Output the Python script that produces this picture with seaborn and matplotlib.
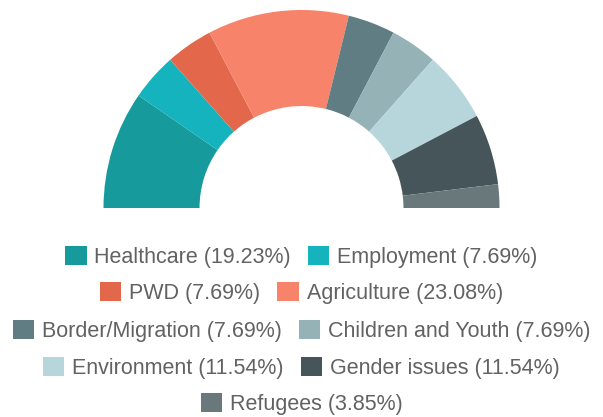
"""Half-donut chart of project categories with a centred legend."""

import matplotlib
matplotlib.use("Agg")
import matplotlib.pyplot as plt
import seaborn as sns

categories = ["Healthcare", "Employment", "PWD", "Agriculture", "Border/Migration",
              "Children and Youth", "Environment", "Gender issues", "Refugees"]
shares = [19.23, 7.69, 7.69, 23.08, 7.69, 7.69, 11.54, 11.54, 3.85]
colors = ["#179a9c", "#14b3bd", "#e3674a", "#f7836a", "#5f7d83",
          "#95b2b6", "#b6d6dc", "#45555a", "#68787b"]
legend_rows = [[0, 1], [2, 3], [4, 5], [6, 7], [8]]

sns.set_theme(style="white")
plt.rcParams["font.family"] = ["Liberation Sans", "DejaVu Sans"]

W, H = 603, 417
fig = plt.figure(figsize=(W / 100, H / 100), dpi=100)
fig.patch.set_facecolor("white")

# pie axes: centre at (301.5, 208) from top, outer radius ~198 px
cx, cy, r = 301.5, H - 208, 198
ax = fig.add_axes([(cx - r) / W, (cy - r) / H, 2 * r / W, 2 * r / H])

# hidden lower half makes the visible part a semicircle
values = shares + [sum(shares)]
wedge_colors = colors + ["none"]
wedges, _ = ax.pie(values, colors=wedge_colors, startangle=180, counterclock=False,
                   radius=1, wedgeprops=dict(width=0.485, linewidth=0))
ax.set_xlim(-1, 1)
ax.set_ylim(-1, 1)
ax.axis("off")

# legend: one centred legend per row
row_y = [257, 293, 331, 368, 404]
for row, y in zip(legend_rows, row_y):
    handles = [wedges[i] for i in row]
    labels = [f"{categories[i]} ({shares[i]:.2f}%)" for i in row]
    fig.legend(handles, labels, loc="center", bbox_to_anchor=(0.5, 1 - y / H),
               ncol=len(row), frameon=False, fontsize=15.5, labelcolor="#626262",
               handlelength=0.98, handleheight=0.95, handletextpad=0.37,
               columnspacing=0.79, borderpad=0, borderaxespad=0)

fig.savefig("out.png", dpi=100, facecolor="white")
plt.close(fig)
